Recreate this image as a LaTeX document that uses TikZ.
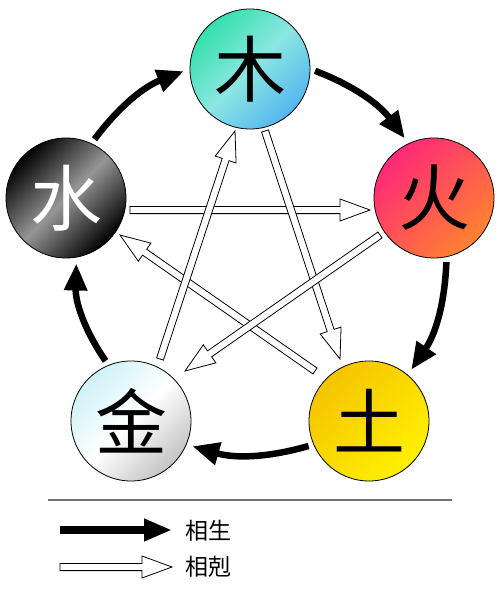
\documentclass[tikz,border=0pt]{standalone}
\usepackage{fontspec}
\newfontfamily\cjk{Noto Sans CJK SC}
\usetikzlibrary{arrows.meta,calc}
\definecolor{muA}{RGB}{52,224,172}
\definecolor{muM}{RGB}{140,230,226}
\definecolor{muB}{RGB}{84,182,240}
\definecolor{huoA}{RGB}{255,40,120}
\definecolor{huoB}{RGB}{255,130,48}
\definecolor{tuA}{RGB}{245,196,0}
\definecolor{tuB}{RGB}{255,240,0}
\definecolor{jinA}{RGB}{206,242,248}
\definecolor{jinB}{RGB}{196,196,196}
\definecolor{shuiM}{RGB}{150,150,150}
\newcommand{\kearrow}[2]{%
  \coordinate (kh) at ($(#2)!30pt!(#1)$);
  \draw[kestyle] ($(#1)!3.6pt!90:(#2)$) -- ($(kh)!3.6pt!90:(#2)$) -- ($(kh)!11pt!90:(#2)$)
    -- (#2) -- ($(kh)!11pt!-90:(#2)$) -- ($(kh)!3.6pt!-90:(#2)$) -- ($(#1)!3.6pt!-90:(#2)$) -- cycle;}
\begin{document}
\begin{tikzpicture}[x=1pt,y=1pt,
  elem/.style={circle, draw=black, line width=0.8pt, minimum size=120pt, inner sep=0pt,
    font=\cjk\fontsize{72}{72}\selectfont},
  sheng/.style={line width=6.5pt, -{Triangle[length=27pt,width=22pt]}, shorten <=5pt, shorten >=6pt},
  kestyle/.style={draw=black, line width=0.8pt, fill=white, line join=miter},
  legtext/.style={font=\cjk\fontsize{23}{23}\selectfont, anchor=west, inner sep=0pt}]
\useasboundingbox (0,0) rectangle (500,-589);
\node[elem, top color=muA, bottom color=muB, middle color=muM, shading angle=45] (mu) at (250,-69) {木};
\node[elem, top color=huoA, bottom color=huoB, shading angle=45] (huo) at (434,-198) {火};
\node[elem, top color=tuA, bottom color=tuB, shading angle=45] (tu) at (369,-421) {土};
\node[elem, top color=jinA, bottom color=jinB, middle color=white, shading angle=45] (jin) at (131,-421) {金};
\node[elem, top color=black, bottom color=black, middle color=shuiM, shading angle=45, text=white] (shui) at (66,-198) {水};
% sheng cycle
\draw[sheng] (mu.0) to[bend left=16] (huo.115);
\draw[sheng] (huo.-78) to[bend left=16] (tu.50);
\draw[sheng] (tu.-157) to[bend left=16] (jin.-23);
\draw[sheng] (jin.112) to[bend left=18] (shui.-80);
\draw[sheng] (shui.65) to[bend left=16] (mu.180);
% ke cycle
\coordinate (k1a) at ($(mu)+(15,-62)$);   \coordinate (k1b) at ($(tu)+(-29,62)$);
\coordinate (k2a) at ($(tu)+(-54,50)$);   \coordinate (k2b) at ($(shui)+(54,-37)$);
\coordinate (k3a) at ($(shui)+(64,-12)$); \coordinate (k3b) at ($(huo)+(-64,-12)$);
\coordinate (k4a) at ($(huo)+(-54,-37)$); \coordinate (k4b) at ($(jin)+(54,50)$);
\coordinate (k5a) at ($(jin)+(29,62)$);   \coordinate (k5b) at ($(mu)+(-15,-62)$);
\kearrow{k3a}{k3b}
\kearrow{k1a}{k1b}
\kearrow{k2a}{k2b}
\kearrow{k4a}{k4b}
\kearrow{k5a}{k5b}
% legend
\coordinate (r1) at (48,-500); \coordinate (r2) at (452,-500);
\draw[line width=1.2pt, black!55] (r1) -- (r2);
\node[legtext] (t1) at (185,-531) {相生};
\node[legtext] (t2) at (185,-567) {相剋};
\coordinate (l1) at (60,-530);
\coordinate (l2) at (60,-567);
\coordinate (l2b) at (172,-567);
\draw[line width=8.5pt, -{Triangle[length=28pt,width=21pt]}, shorten >=13pt] (l1) -- (t1.west |- l1);
\kearrow{l2}{l2b}
\end{tikzpicture}
\end{document}
